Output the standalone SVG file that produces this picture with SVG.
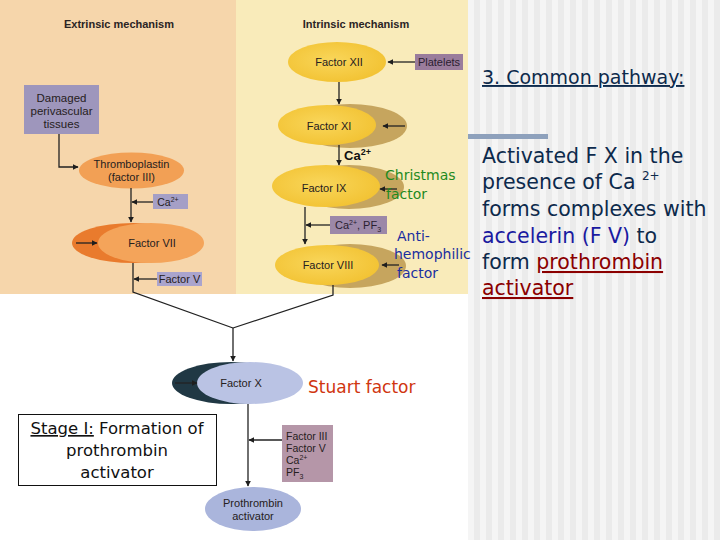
<svg xmlns="http://www.w3.org/2000/svg" width="720" height="540" viewBox="0 0 720 540">
  <defs>
    <pattern id="stripes" x="0" y="0" width="12" height="12" patternUnits="userSpaceOnUse">
      <rect x="0" y="0" width="6" height="12" fill="#f5f5f5"/>
      <rect x="6" y="0" width="6" height="12" fill="#ebebeb"/>
    </pattern>
    <radialGradient id="yel" cx="0.45" cy="0.45" r="0.6">
      <stop offset="0" stop-color="#f9d65a"/>
      <stop offset="1" stop-color="#f2c232"/>
    </radialGradient>
    <marker id="ah" viewBox="0 0 10 10" refX="9" refY="5" markerWidth="6" markerHeight="6" orient="auto" markerUnits="userSpaceOnUse">
      <path d="M0,0 L10,5 L0,10 z" fill="#1e1e1e"/>
    </marker>
    <style>
      .lbl { font-family: "Liberation Sans", Arial, sans-serif; font-size: 11px; fill: #262020; text-anchor: middle; }
      .hdr { font-family: "Liberation Sans", Arial, sans-serif; font-size: 11px; font-weight: bold; fill: #2a2424; text-anchor: middle; }
      .con { fill: none; stroke: #222; stroke-width: 1.3; }
      .arr { marker-end: url(#ah); }
      .comic { font-family: "DejaVu Sans", sans-serif; }
      .navy { fill: #0d2a4c; }
      .crescent { fill: #c6a55e; }
    </style>
  </defs>

  <!-- backgrounds -->
  <rect x="0" y="0" width="720" height="540" fill="#ffffff"/>
  <rect x="468" y="0" width="252" height="540" fill="url(#stripes)"/>
  <rect x="0" y="0" width="236" height="294" fill="#f6d6ab"/>
  <rect x="236" y="0" width="232" height="294" fill="#f9ebba"/>

  <text class="hdr" x="119" y="28">Extrinsic mechanism</text>
  <text class="hdr" x="356" y="28">Intrinsic mechanism</text>

  <!-- Extrinsic nodes -->
  <g id="damaged">
    <rect x="24" y="85" width="75" height="49" fill="#9e96bc"/>
    <text class="lbl" x="61.5" y="102" style="font-size:11.5px">Damaged</text>
    <text class="lbl" x="61.5" y="115" style="font-size:11.5px">perivascular</text>
    <text class="lbl" x="61.5" y="128" style="font-size:11.5px">tissues</text>
  </g>
  <g id="thromboplastin">
    <ellipse cx="131.5" cy="170.5" rx="52.5" ry="18" fill="#f2a055"/>
    <text class="lbl" x="131.5" y="168">Thromboplastin</text>
    <text class="lbl" x="131.5" y="181">(factor III)</text>
  </g>
  <g id="ca1">
    <rect x="153" y="194" width="35" height="15" fill="#a59fc6"/>
    <text class="lbl" x="168" y="206" style="font-size:10.5px">Ca<tspan dy="-4" style="font-size:7px">2+</tspan></text>
  </g>
  <g id="factor7">
    <ellipse cx="133" cy="243" rx="61" ry="20" fill="#e97b2d"/>
    <ellipse cx="151" cy="243" rx="53" ry="20" fill="#f4a45a"/>
    <text class="lbl" x="152" y="247">Factor VII</text>
  </g>
  <g id="factorV">
    <rect x="157" y="272" width="45" height="14" fill="#aaa4cd"/>
    <text class="lbl" x="179.5" y="283">Factor V</text>
  </g>

  <!-- Intrinsic nodes -->
  <g id="factor12">
    <ellipse cx="337" cy="62" rx="49" ry="20" fill="url(#yel)"/>
    <text class="lbl" x="339" y="66">Factor XII</text>
  </g>
  <g id="platelets">
    <rect x="415" y="54" width="48" height="16" fill="#9a7c9c"/>
    <text class="lbl" x="439" y="66" style="fill:#2a2030">Platelets</text>
  </g>
  <g id="factor11">
    <ellipse class="crescent" cx="350" cy="126" rx="57" ry="22"/>
    <ellipse cx="327" cy="125" rx="49" ry="20" fill="url(#yel)"/>
    <text class="lbl" x="329" y="130">Factor XI</text>
  </g>
  <g id="factor9">
    <ellipse class="crescent" cx="349" cy="187" rx="55" ry="22"/>
    <ellipse cx="326" cy="186" rx="54" ry="21" fill="url(#yel)"/>
    <text class="lbl" x="324" y="192">Factor IX</text>
  </g>
  <g id="caPF3">
    <rect x="330" y="216" width="57" height="18" fill="#9c88a8"/>
    <text class="lbl" x="358" y="229" style="fill:#2a2030">Ca<tspan dy="-4" style="font-size:7px">2+</tspan><tspan dy="4">, PF</tspan><tspan dy="3" style="font-size:7px">3</tspan></text>
  </g>
  <g id="factor8">
    <ellipse class="crescent" cx="350" cy="266" rx="56" ry="22"/>
    <ellipse cx="327" cy="265" rx="52" ry="20" fill="url(#yel)"/>
    <text class="lbl" x="328" y="269">Factor VIII</text>
  </g>

  <!-- Common pathway nodes -->
  <g id="factorX">
    <ellipse cx="231" cy="383" rx="59" ry="21" fill="#203844"/>
    <ellipse cx="250" cy="383" rx="53" ry="21" fill="#bac3e4"/>
    <text class="lbl" x="241" y="387">Factor X</text>
  </g>
  <g id="cofactors">
    <rect x="282" y="425" width="51" height="57" fill="#b596a8"/>
    <text class="lbl" x="286" y="440" style="text-anchor:start;font-size:10.5px">Factor III</text>
    <text class="lbl" x="286" y="452" style="text-anchor:start;font-size:10.5px">Factor V</text>
    <text class="lbl" x="286" y="464" style="text-anchor:start;font-size:10.5px">Ca<tspan dy="-4" style="font-size:7px">2+</tspan></text>
    <text class="lbl" x="286" y="476" style="text-anchor:start;font-size:10.5px">PF<tspan dy="3" style="font-size:7px">3</tspan></text>
  </g>
  <g id="prothrombinActivator">
    <ellipse cx="253" cy="509" rx="48" ry="22" fill="#aab5dc"/>
    <text class="lbl" x="253" y="507">Prothrombin</text>
    <text class="lbl" x="253" y="520">activator</text>
  </g>

  <!-- connectors -->
  <g id="connectors">
    <path class="con arr" d="M59,134 V167 H78"/>
    <path class="con arr" d="M131,188 V222"/>
    <path class="con arr" d="M153,202 H132"/>
    <path class="con" d="M133,263 V292 L233,328"/>
    <path class="con arr" d="M157,279 H134"/>
    <path class="con arr" d="M76,243 H97"/>
    <path class="con arr" d="M415,62 H388"/>
    <path class="con arr" d="M339,82 V104"/>
    <path class="con arr" d="M405,126 H383"/>
    <path class="con arr" d="M339,145 V165"/>
    <path class="con arr" d="M397,189 H380"/>
    <path class="con arr" d="M305,207 V244"/>
    <path class="con arr" d="M330,225 H306"/>
    <path class="con arr" d="M399,265 H382"/>
    <path class="con" d="M333,285 V295 L233,328"/>
    <path class="con arr" d="M233,328 V361"/>
    <path class="con arr" d="M175,383 H197"/>
    <path class="con arr" d="M248,404 V486"/>
    <path class="con arr" d="M282,440 H249"/>
  </g>

  <!-- annotations -->
  <text x="344" y="160" style="font-family:'Liberation Sans',Arial,sans-serif;font-size:13px;font-weight:bold;fill:#111">Ca<tspan dy="-5" style="font-size:9px">2+</tspan></text>
  <g class="comic" style="font-size:14px;fill:#1f8a1f">
    <text x="385" y="180">Christmas</text>
    <text x="386" y="199">factor</text>
  </g>
  <g class="comic" style="font-size:14px;fill:#1a2ea0">
    <text x="397" y="241">Anti-</text>
    <text x="394" y="259">hemophilic</text>
    <text x="397" y="278">factor</text>
  </g>
  <text class="comic" x="308" y="393" style="font-size:17px;fill:#d0360f">Stuart factor</text>

  <g id="stageI">
    <rect x="18.5" y="414.5" width="198" height="71" fill="#ffffff" stroke="#111" stroke-width="1"/>
    <text class="comic" x="117" y="434" style="font-size:16.5px;fill:#111;text-anchor:middle"><tspan text-decoration="underline">Stage I:</tspan> Formation of</text>
    <text class="comic" x="117" y="456" style="font-size:16.5px;fill:#111;text-anchor:middle">prothrombin</text>
    <text class="comic" x="117" y="478" style="font-size:16.5px;fill:#111;text-anchor:middle">activator</text>
  </g>

  <!-- right-hand text -->
  <text class="comic navy" x="482" y="84" style="font-size:19px" text-decoration="underline">3. Common pathway:</text>
  <rect x="468" y="134" width="80" height="5" fill="#8ea1bc"/>
  <g class="comic navy" style="font-size:20.5px">
    <text x="482" y="163">Activated F X in the</text>
    <text x="482" y="189">presence of Ca <tspan dy="-9" style="font-size:12px">2+</tspan></text>
    <text x="482" y="216">forms complexes with</text>
    <text x="482" y="243"><tspan style="fill:#1a1aa0">accelerin (F V)</tspan> to</text>
    <text x="482" y="269">form <tspan style="fill:#8b0000" text-decoration="underline">prothrombin</tspan></text>
    <text x="482" y="295" style="fill:#8b0000" text-decoration="underline">activator</text>
  </g>
</svg>
